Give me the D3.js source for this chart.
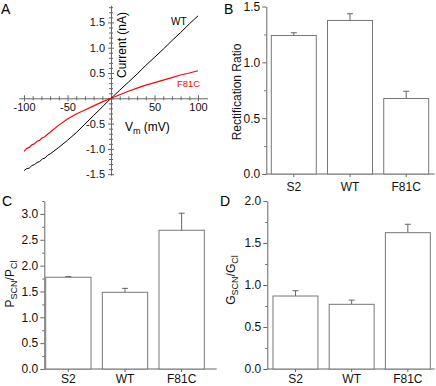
<!DOCTYPE html>
<html>
<head>
<meta charset="utf-8">
<script src="https://cdn.jsdelivr.net/npm/d3@7"></script>
<style>
    body { margin: 0; background: #fff; }
    svg { display: block; font-family: "Liberation Sans", Arial, sans-serif; }
    .axis path, .axis line { stroke: #666; }
    .axis text { fill: #111; }
</style>
</head>
<body>
<div id="chart"></div>
<script>
// --- data ---
// panel A: current-voltage traces
let vm = [-100, -97, -94, -91, -88, -85, -82, -79, -76, -73, -70, -60, -50, -40, -30, -20, -10,
    0, 10, 20, 30, 40, 50, 60, 70, 80, 90, 100];
let currentWT = [-1.43, -1.39, -1.38, -1.33, -1.31, -1.27, -1.25, -1.20, -1.18, -1.13, -1.10, -0.97, -0.83,
    -0.68, -0.51, -0.34, -0.17, 0, 0.16, 0.32, 0.48, 0.65, 0.81, 0.97, 1.14, 1.30, 1.47, 1.63];
let currentF81C = [-1.05, -0.99, -0.97, -0.92, -0.90, -0.85, -0.83, -0.78, -0.76, -0.71, -0.67, -0.53, -0.41,
    -0.31, -0.23, -0.15, -0.07, 0, 0.07, 0.14, 0.20, 0.26, 0.31, 0.36, 0.41, 0.46, 0.50, 0.545];

// bar panels
let categories = ['S2', 'WT', 'F81C'];
let rectRatio = [1.24, 1.375, 0.676];
let rectErr = [0.025, 0.06, 0.065];
let permRatio = [1.775, 1.484, 2.684];
let permErr = [0.015, 0.076, 0.33];
let condRatio = [0.869, 0.77, 1.623];
let condErr = [0.063, 0.05, 0.1];

let axisColor = '#666';
let svg = d3.select('#chart').append('svg')
    .attr('width', 436)
    .attr('height', 386);

function dash(v) {
    return d3.format('.1f')(v).replace('\u2212', '-');
}

// panel letters
[['A', 1, 14], ['B', 224, 14], ['C', 2, 206], ['D', 220, 206]].forEach(p => {
    svg.append('text')
        .attr('x', p[1]).attr('y', p[2])
        .attr('font-size', 14)
        .attr('fill', '#000')
        .text(p[0]);
});

// ---------- panel A ----------
function drawIV() {
    let x = d3.scaleLinear().domain([-106, 111]).range([18.8, 207.6]);
    let y = d3.scaleLinear().domain([-1.52, 1.84]).range([175.2, 5.2]);
    let g = svg.append('g');

    // minor ticks
    let minorX = d3.range(-100, 101, 10).filter(v => v % 50 !== 0);
    let minorY = d3.range(-15, 19, 1).map(v => v / 10).filter(v => Math.round(v * 10) % 5 !== 0);

    let xMinor = g.append('g').attr('class', 'axis')
        .attr('transform', 'translate(0,' + y(0) + ')')
        .call(d3.axisBottom(x).tickValues(minorX).tickSize(2).tickFormat(''));
    xMinor.select('.domain').remove();
    xMinor.selectAll('line').attr('y1', -2);

    let yMinor = g.append('g').attr('class', 'axis')
        .attr('transform', 'translate(' + x(0) + ',0)')
        .call(d3.axisLeft(y).tickValues(minorY).tickSize(2).tickFormat(''));
    yMinor.select('.domain').remove();
    yMinor.selectAll('line').attr('x1', 2);

    let xAxis = g.append('g').attr('class', 'axis')
        .attr('transform', 'translate(0,' + y(0) + ')')
        .call(d3.axisBottom(x).tickValues([-100, -50, 0, 50, 100]).tickSizeOuter(0).tickSizeInner(3).tickPadding(2)
            .tickFormat(d => d === 0 ? '' : String(d)));
    xAxis.selectAll('line').attr('y1', -3);
    xAxis.selectAll('text').attr('font-size', 11);

    let yAxis = g.append('g').attr('class', 'axis')
        .attr('transform', 'translate(' + x(0) + ',0)')
        .call(d3.axisLeft(y).tickValues([-1.5, -1, -0.5, 0, 0.5, 1, 1.5]).tickSizeOuter(0).tickSizeInner(3).tickPadding(3)
            .tickFormat(d => d === 0 ? '' : dash(d)));
    yAxis.selectAll('line').attr('x1', 3);
    yAxis.selectAll('text').attr('font-size', 11);

    let line = d3.line().x((d, i) => x(vm[i])).y(d => y(d));
    g.append('path').datum(currentWT)
        .attr('d', line).attr('fill', 'none').attr('stroke', '#000').attr('stroke-width', 1);
    g.append('path').datum(currentF81C)
        .attr('d', line).attr('fill', 'none').attr('stroke', '#f00').attr('stroke-width', 1.2);

    g.append('text').attr('x', 171).attr('y', 25).attr('font-size', 10).text('WT');
    g.append('text').attr('x', 177).attr('y', 87).attr('font-size', 9.5).attr('fill', '#f00').text('F81C');

    g.append('text')
        .attr('transform', 'translate(126,45) rotate(-90)')
        .attr('text-anchor', 'middle')
        .attr('font-size', 12)
        .text('Current  (nA)');

    let vt = g.append('text').attr('x', 125).attr('y', 131).attr('font-size', 12);
    vt.append('tspan').text('V');
    vt.append('tspan').attr('font-size', 9).attr('dy', 3).text('m');
    vt.append('tspan').attr('dy', -3).text(' (mV)');
}

// ---------- bar panels ----------
function drawBars(opts) {
    let g = svg.append('g');
    let x = d3.scaleBand().domain(categories).range(opts.bars).paddingInner(0.2).paddingOuter(0);
    let y = d3.scaleLinear().domain(opts.domain).range([opts.y0, opts.yTop]);

    // minor y ticks
    let minor = g.append('g').attr('class', 'axis')
        .attr('transform', 'translate(' + opts.axisX + ',0)')
        .call(d3.axisLeft(y).tickValues(opts.minor).tickSize(2).tickFormat(''));
    minor.select('.domain').remove();

    let yAxis = g.append('g').attr('class', 'axis')
        .attr('transform', 'translate(' + opts.axisX + ',0)')
        .call(d3.axisLeft(y).tickValues(opts.major).tickSizeOuter(0).tickSizeInner(4).tickPadding(2).tickFormat(dash));
    yAxis.selectAll('text').attr('font-size', 12);

    // baseline
    g.append('line')
        .attr('x1', opts.axisX).attr('x2', opts.axisEnd)
        .attr('y1', y(0)).attr('y2', y(0))
        .attr('stroke', axisColor);

    let xAxis = g.append('g').attr('class', 'axis')
        .attr('transform', 'translate(0,' + y(0) + ')')
        .call(d3.axisBottom(x).tickSizeOuter(0).tickSizeInner(3).tickPadding(opts.catPad));
    xAxis.select('.domain').remove();
    xAxis.selectAll('text').attr('font-size', 12);

    // error bars (upper only)
    let err = g.selectAll('.err').data(opts.values)
        .enter().append('g').attr('class', 'err');
    err.append('line')
        .attr('x1', (d, i) => x(categories[i]) + x.bandwidth() / 2)
        .attr('x2', (d, i) => x(categories[i]) + x.bandwidth() / 2)
        .attr('y1', d => y(d))
        .attr('y2', (d, i) => y(d + opts.errors[i]))
        .attr('stroke', axisColor);
    err.append('line')
        .attr('x1', (d, i) => x(categories[i]) + x.bandwidth() / 2 - 3)
        .attr('x2', (d, i) => x(categories[i]) + x.bandwidth() / 2 + 3)
        .attr('y1', (d, i) => y(d + opts.errors[i]))
        .attr('y2', (d, i) => y(d + opts.errors[i]))
        .attr('stroke', axisColor);

    g.selectAll('.bar').data(opts.values)
        .enter().append('rect')
        .attr('class', 'bar')
        .attr('x', (d, i) => x(categories[i]))
        .attr('width', x.bandwidth())
        .attr('y', d => y(d))
        .attr('height', d => y(0) - y(d))
        .attr('fill', '#fff')
        .attr('stroke', '#777')
        .attr('stroke-width', 1);

    // y label
    let lab = g.append('text')
        .attr('transform', 'translate(' + opts.labelX + ',' + opts.labelY + ') rotate(-90)')
        .attr('text-anchor', 'middle')
        .attr('font-size', 12)
        .attr('fill', '#111');
    opts.label.forEach(part => {
        let t = lab.append('tspan').text(part[0]);
        if (part[1] === 'sub') t.attr('font-size', 9).attr('dy', 3);
        if (part[1] === 'up') t.attr('dy', -3);
    });
}

drawIV();

drawBars({
    values: rectRatio, errors: rectErr,
    domain: [0, 1.5], y0: 174, yTop: 6.5,
    axisX: 266.3, axisEnd: 434.7, bars: [271.3, 428.7], catPad: 5,
    major: [0, 0.5, 1, 1.5], minor: [0.25, 0.75, 1.25],
    label: [['Rectification Ratio']], labelX: 241, labelY: 92
});

drawBars({
    values: permRatio, errors: permErr,
    domain: [0, 3.25], y0: 369, yTop: 201,
    axisX: 44.3, axisEnd: 216.7, bars: [45.7, 204.3], catPad: 2,
    major: [0, 0.5, 1, 1.5, 2, 2.5, 3], minor: [0.25, 0.75, 1.25, 1.75, 2.25, 2.75, 3.25],
    label: [['P'], ['SCN', 'sub'], ['/P', 'up'], ['Cl', 'sub']], labelX: 14, labelY: 284
});

drawBars({
    values: condRatio, errors: condErr,
    domain: [0, 2], y0: 369, yTop: 201,
    axisX: 267.3, axisEnd: 434.7, bars: [273, 430.3], catPad: 2,
    major: [0, 0.5, 1, 1.5, 2], minor: [0.25, 0.75, 1.25, 1.75],
    label: [['G'], ['SCN', 'sub'], ['/G', 'up'], ['Cl', 'sub']], labelX: 235, labelY: 280
});
</script>
</body>
</html>
